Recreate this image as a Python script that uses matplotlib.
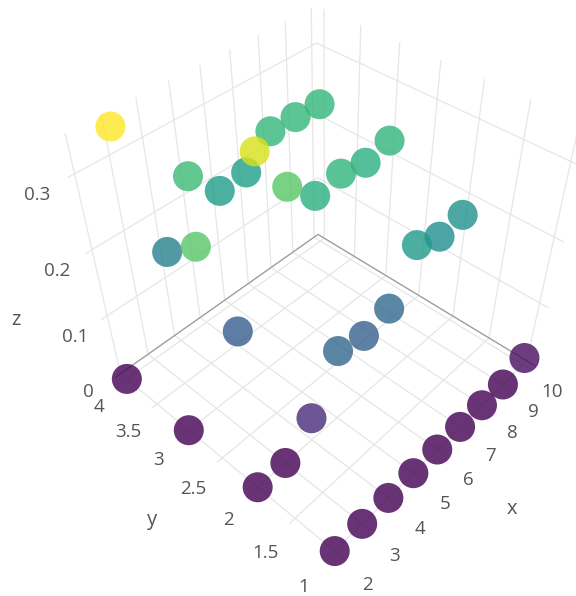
import numpy as np
import matplotlib
matplotlib.use('Agg')
import matplotlib.pyplot as plt

plt.rcParams['font.family'] = ['Open Sans', 'DejaVu Sans']
plt.rcParams['grid.color'] = '#e6e6e6'
plt.rcParams['grid.linewidth'] = 0.9

x = [2,3,4,5,6,7,8,9,10] * 4
y = [1]*9 + [2]*9 + [3]*9 + [4]*9
z = [0,0,0,0,0,0,0,0,.012,
     0,0,.039,.114,.104,.115,.182,.167,.173,
     0,.251,.097,.320,.252,.215,.222,.214,.223,
     0,.340,.148,.232,.187,.190,.227,.226,.224]

x_ticks = [2,3,4,5,6,7,8,9,10]
y_ticks = [1,1.5,2,2.5,3,3.5,4]
z_ticks = [0,.1,.2,.3]

# camera fitted against the reference
azim, elev, focal = -137.3658, 42.7359, np.exp(-1.1734)
box = (np.exp(0.0239), np.exp(0.0345), 1)
cx, cy, size = 0.5537, 0.5417, np.exp(-0.0736)
x_pad, y_pad, z_top = 0.1925, 0.1082, 0.3483

fig = plt.figure(figsize=(5.76, 5.96), dpi=100)
ax = fig.add_subplot(projection='3d', computed_zorder=False)
ax.view_init(elev=elev, azim=azim)
ax.set_proj_type('persp', focal_length=focal)
ax.set_box_aspect(box)
ax.set_position([cx - size/2*596/576, cy - size/2, size*596/576, size])

ax.set_xticks(x_ticks)
ax.set_yticks(y_ticks)
ax.set_zticks(z_ticks)
ax.set_xlim(2-x_pad, 10+x_pad, view_margin=0)
ax.set_ylim(1-y_pad, 4+y_pad, view_margin=0)
ax.set_zlim(0, z_top, view_margin=0)
ax.set_xticklabels([])
ax.set_yticklabels([])
ax.set_zticklabels([])
ax.tick_params(color=(0,0,0,0))
ax.patch.set_visible(False)
for a in (ax.xaxis, ax.yaxis, ax.zaxis):
    a.set_pane_color((1,1,1,0))
    a.pane.set_edgecolor((1,1,1,0))
    a.line.set_color((0,0,0,0))
    a.gridlines.set_clip_on(False)

# dark edges of the floor
ax.plot([10+x_pad,10+x_pad,2-x_pad], [1-y_pad,4+y_pad,4+y_pad], [0,0,0], color='#9a9a9a', lw=0.9, zorder=1, clip_on=False)
ax.scatter(x, y, z, c=z, cmap='viridis', vmin=0, vmax=.34, s=467, alpha=.8, linewidths=0, depthshade=False, zorder=2, clip_on=False)

# tick labels and titles, pixel positions
tick_labels = [('2',367,585),('3',395,556),('4',420,529),('5',445,504),('6',468,480),('7',491,456),('8',512,433),('9',533,412),('10',552,392),
               ('1',304,587),('1.5',265,553),('2',228,520),('2.5',193,489),('3',159,460),('3.5',128,432),('4',99,407),
               ('0',88,392),('0.1',75,337),('0.2',57,271),('0.3',37,195)]
for s, u, v in tick_labels:
    fig.text(u/576, 1-v/596, s, ha='center', va='center', fontsize=13.5, color='#555555')
for s, u, v in [('x',512,509),('y',152,520),('z',16,320)]:
    fig.text(u/576, 1-v/596, s, ha='center', va='center', fontsize=14.5, color='#555555')

fig.savefig('out.png')
